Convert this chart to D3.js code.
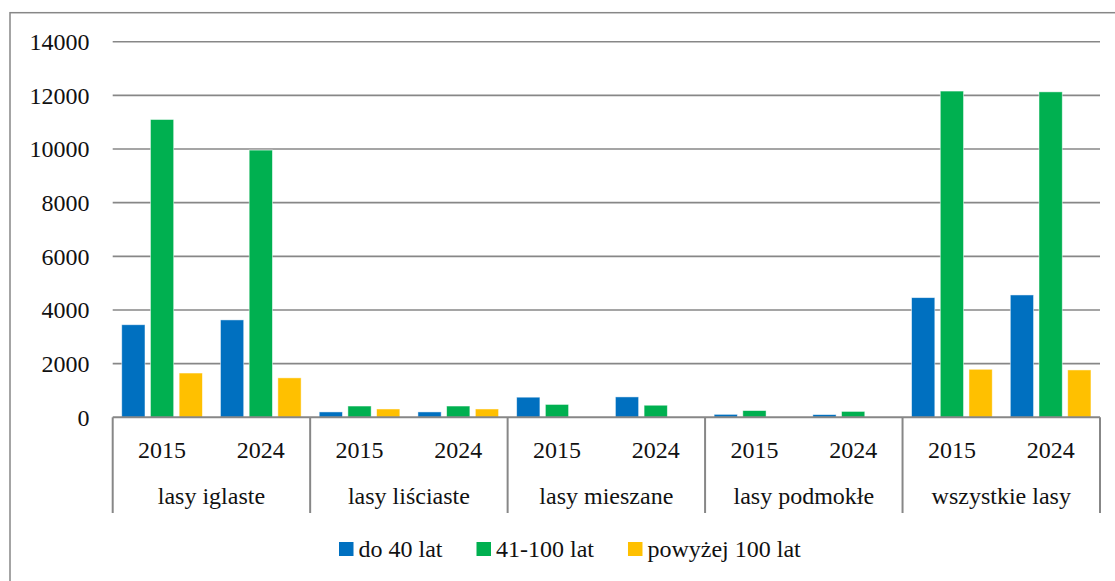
<!DOCTYPE html>
<html>
<head>
<meta charset="utf-8">
<script src="https://cdn.jsdelivr.net/npm/d3@7"></script>
<style>
  html, body { margin: 0; padding: 0; background: #fff; }
  svg { display: block; }
  text { font-family: "Liberation Serif", "DejaVu Serif", serif; fill: #111; }
</style>
</head>
<body>
<svg id="chart" width="1115" height="581"></svg>
<script>
// ---- data ----
const categories = ["lasy iglaste", "lasy liściaste", "lasy mieszane", "lasy podmokłe", "wszystkie lasy"];
const years = ["2015", "2024"];
const seriesNames = ["do 40 lat", "41-100 lat", "powyżej 100 lat"];
const seriesColors = ["#0070C0", "#00B050", "#FFC000"];
// values per (category, year), in order: iglaste 2015, 2024, liściaste 2015, 2024, ...
const do40 = [3450, 3630, 200, 200, 750, 760, 110, 100, 4460, 4560];
const s41_100 = [11100, 9960, 420, 420, 480, 450, 250, 220, 12160, 12130];
const pow100 = [1650, 1470, 310, 310, null, null, null, null, 1790, 1765];
const yTicks = [0, 2000, 4000, 6000, 8000, 10000, 12000, 14000];

const seriesValues = [do40, s41_100, pow100];

// ---- layout ----
const svg = d3.select("#chart");
const plotLeft = 112.7, plotRight = 1100, plotTop = 41.7, plotBottom = 417.3;
const gridColor = "#878787";

// outer border
svg.append("rect")
  .attr("x", 10).attr("y", 12.7).attr("width", 1120).attr("height", 600)
  .attr("fill", "none").attr("stroke", gridColor).attr("stroke-width", 1.5);

const y = d3.scaleLinear().domain([0, 14000]).range([plotBottom, plotTop]);

const subKeys = [];
categories.forEach(c => years.forEach(yr => subKeys.push(c + "|" + yr)));

const xCat = d3.scaleBand().domain(categories).range([plotLeft, plotRight]);
const x0 = d3.scaleBand().domain(subKeys).range([plotLeft, plotRight]);
const x1 = d3.scaleBand().domain(seriesNames).range([0, x0.bandwidth()])
  .paddingInner(0.19).paddingOuter(0.315);

// gridlines
svg.append("g").selectAll("line").data(yTicks.filter(t => t > 0)).join("line")
  .attr("x1", plotLeft).attr("x2", plotRight)
  .attr("y1", d => y(d)).attr("y2", d => y(d))
  .attr("stroke", gridColor).attr("stroke-width", 1.6);

// y tick labels
svg.append("g").selectAll("text").data(yTicks).join("text")
  .attr("x", 89.5).attr("y", d => y(d))
  .attr("dy", "0.35em")
  .attr("text-anchor", "end")
  .style("font-size", "24px")
  .text(d => d);

// bars
const barData = [];
subKeys.forEach((k, i) => {
  seriesNames.forEach((s, j) => {
    const v = seriesValues[j][i];
    if (v !== null && v !== undefined) barData.push({ key: k, series: s, color: seriesColors[j], value: v });
  });
});

svg.append("g").selectAll("rect").data(barData).join("rect")
  .attr("x", d => x0(d.key) + x1(d.series))
  .attr("width", x1.bandwidth())
  .attr("y", d => y(d.value))
  .attr("height", d => y(0) - y(d.value))
  .attr("fill", d => d.color)
  .attr("stroke", "rgba(255,255,255,0.6)")
  .attr("stroke-width", 0.8);

// category axis line
svg.append("line")
  .attr("x1", plotLeft).attr("x2", plotRight).attr("y1", plotBottom).attr("y2", plotBottom)
  .attr("stroke", gridColor).attr("stroke-width", 2);

// category dividers
const divX = categories.map(c => xCat(c)).concat([plotRight]);
svg.append("g").selectAll("line").data(divX).join("line")
  .attr("x1", d => d).attr("x2", d => d)
  .attr("y1", plotBottom).attr("y2", 513)
  .attr("stroke", gridColor).attr("stroke-width", 2);

// year labels
svg.append("g").selectAll("text").data(subKeys).join("text")
  .attr("x", d => x0(d) + x0.bandwidth() / 2)
  .attr("y", 457.5)
  .attr("text-anchor", "middle")
  .style("font-size", "24px")
  .text(d => d.split("|")[1]);

// category labels
svg.append("g").selectAll("text").data(categories).join("text")
  .attr("x", d => xCat(d) + xCat.bandwidth() / 2)
  .attr("y", 504)
  .attr("text-anchor", "middle")
  .style("font-size", "24px")
  .text(d => d);

// legend
const legend = svg.append("g");
let lx = 339;
seriesNames.forEach((s, j) => {
  legend.append("rect")
    .attr("x", lx).attr("y", 542).attr("width", 14.5).attr("height", 14)
    .attr("fill", seriesColors[j]);
  const t = legend.append("text")
    .attr("x", lx + 19.5).attr("y", 556.5)
    .style("font-size", "24px")
    .text(s);
  const w = t.node().getComputedTextLength();
  lx = lx + 19.5 + w + 34;
});
</script>
</body>
</html>
